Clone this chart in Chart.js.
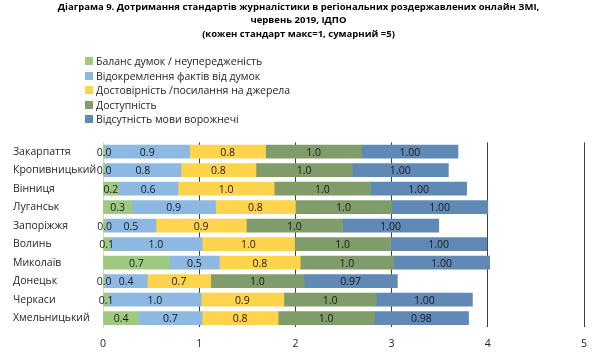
<!DOCTYPE html>
<html>
<head>
<meta charset="utf-8">
<script src="https://cdn.jsdelivr.net/npm/chart.js@4"></script>
<style>
    html, body { margin: 0; padding: 0; background: #fff; }
    #wrap { position: relative; width: 600px; height: 360px; }
    #legend { position: absolute; left: 85px; top: 54px; font-family: "Open Sans", sans-serif; font-size: 10.5px; color: #262626; line-height: 14.5px; }
    #legend div { white-space: nowrap; }
    #legend span { display: inline-block; width: 8px; height: 8px; margin-right: 3px; vertical-align: -0px; }
</style>
</head>
<body>
<div id="wrap">
    <canvas id="chart" width="600" height="360"></canvas>
    <div id="legend"></div>
</div>
<script>
// regions (top to bottom)
const regions = ['Закарпаття', 'Кропивницький', 'Вінниця', 'Луганськ', 'Запоріжжя',
    'Волинь', 'Миколаїв', 'Донецьк', 'Черкаси', 'Хмельницький'];

const seriesNames = [
    'Баланс думок / неупередженість',
    'Відокремлення фактів від думок',
    'Достовірність /посилання на джерела',
    'Доступність',
    'Відсутність мови ворожнечі'
];

const balance   = [0.02, 0.02, 0.16, 0.30, 0.03, 0.07, 0.69, 0.02, 0.06, 0.37];
const facts     = [0.88, 0.79, 0.62, 0.87, 0.52, 0.96, 0.52, 0.44, 0.96, 0.66];
const sources   = [0.79, 0.78, 1.00, 0.83, 0.94, 0.96, 0.84, 0.66, 0.86, 0.79];
const access    = [1.00, 1.00, 1.00, 1.00, 1.00, 1.00, 0.97, 0.97, 0.96, 1.00];
const noHate    = [1.00, 1.00, 1.00, 1.00, 1.00, 1.00, 1.00, 0.97, 1.00, 0.98];

const xTicks = [0, 1, 2, 3, 4, 5];

const colors = ['#9dca80', '#8db8e2', '#ffd44d', '#7f9c6a', '#6189b5'];
const decimals = [1, 1, 1, 1, 2];

const FONT = '"Open Sans", sans-serif';

// draws the value in the middle of each bar segment
const segmentLabels = {
    id: 'segmentLabels',
    afterDraw(chart) {
        const ctx = chart.ctx;
        ctx.save();
        ctx.font = '10.5px ' + FONT;
        ctx.fillStyle = '#1a1a1a';
        ctx.textAlign = 'center';
        ctx.textBaseline = 'middle';
        chart.data.datasets.forEach((ds, i) => {
            const meta = chart.getDatasetMeta(i);
            meta.data.forEach((bar, j) => {
                const cx = (bar.x + bar.base) / 2;
                ctx.fillText(ds.data[j].toFixed(decimals[i]), cx, bar.y + 1);
            });
        });
        ctx.restore();
    }
};

const seriesData = [balance, facts, sources, access, noHate];

const chart = new Chart(document.getElementById('chart').getContext('2d'), {
    type: 'bar',
    data: {
        labels: regions,
        datasets: seriesData.map((d, i) => ({
            label: seriesNames[i],
            data: d,
            backgroundColor: colors[i],
            borderWidth: 0,
            barThickness: 13
        }))
    },
    options: {
        indexAxis: 'y',
        responsive: false,
        animation: false,
        layout: { padding: { left: 13, right: 16, top: 0, bottom: 0 } },
        plugins: {
            legend: { display: false },
            tooltip: { enabled: false },
            title: {
                display: true,
                text: [
                    'Діаграма 9. Дотримання стандартів журналістики в регіональних роздержавлених онлайн ЗМІ,',
                    'червень 2019, ІДПО',
                    '(кожен стандарт макс=1, сумарний =5)'
                ],
                color: '#000',
                font: { family: FONT, size: 9.5, weight: 'bold', lineHeight: 1.45 },
                padding: { top: 0, bottom: 101 }
            }
        },
        scales: {
            x: {
                stacked: true,
                min: 0,
                max: 5,
                z: 1,
                afterBuildTicks: (scale) => { scale.ticks = xTicks.map(v => ({ value: v })); },
                grid: {
                    color: (c) => c.tick && c.tick.value === 0 ? '#d9d9d9' : '#404040',
                    lineWidth: 1,
                    drawTicks: false
                },
                border: { display: false },
                ticks: { color: '#262626', font: { family: FONT, size: 10.5 }, padding: 10 }
            },
            y: {
                stacked: true,
                afterFit: (scale) => { scale.width = 90; },
                grid: { display: false },
                border: { color: '#d9d9d9' },
                ticks: {
                    crossAlign: 'far',
                    color: '#262626',
                    font: { family: FONT, size: 10.5 },
                    padding: 2
                }
            }
        }
    },
    plugins: [segmentLabels]
});

// vertical legend built from the datasets
const legendEl = document.getElementById('legend');
chart.data.datasets.forEach(ds => {
    const row = document.createElement('div');
    const box = document.createElement('span');
    box.style.background = ds.backgroundColor;
    row.appendChild(box);
    row.appendChild(document.createTextNode(ds.label));
    legendEl.appendChild(row);
});
</script>
</body>
</html>
